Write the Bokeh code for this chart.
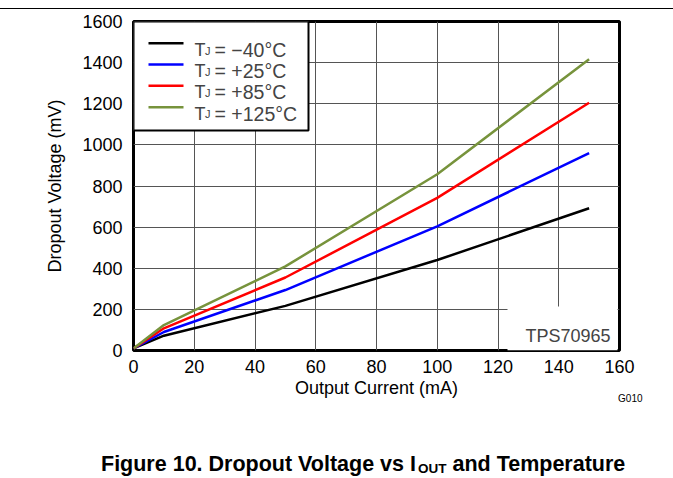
from bokeh.plotting import figure
from bokeh.models import Range1d, Label, FixedTicker, Title, Div
from bokeh.layouts import column
from bokeh.embed import file_html
from bokeh.resources import INLINE

# ---- data ----
current_ma = [0, 10, 50, 100, 150]
vdo_m40 = [10, 72, 217, 440, 692]
vdo_p25 = [10, 90, 294, 604, 960]
vdo_p85 = [10, 108, 355, 742, 1205]
vdo_p125 = [10, 124, 409, 857, 1417]
series_values = [vdo_m40, vdo_p25, vdo_p85, vdo_p125]
series_temps = ["\u221240\u00b0C", "+25\u00b0C", "+85\u00b0C", "+125\u00b0C"]
series_colors = ["#000000", "#0000FF", "#FF0000", "#77933C"]
x_ticks = [0, 20, 40, 60, 80, 100, 120, 140, 160]
y_ticks = [0, 200, 400, 600, 800, 1000, 1200, 1400, 1600]

# ---- layout (page pixels) ----
OY = 9                 # figure top on the page (8px margin + 1px border line)
PW, PH = 670, 411      # figure size
CAP_H = 57             # caption strip height
FL, FR, FT, FB = 133, 619, 21, 350   # frame edges, page pixels
X0, X1, Y0, Y1 = 0, 160, 0, 1600
FONT = "Liberation Sans"
EDGE = "1px solid #000"


def dx(px):
    return X0 + (px - FL) / (FR - FL) * (X1 - X0)


def dy(py):
    return Y0 + (FB - py) / (FB - FT) * (Y1 - Y0)


p = figure(width=PW, height=PH, x_range=Range1d(X0, X1), y_range=Range1d(Y0, Y1),
           output_backend="svg", toolbar_location=None,
           min_border_left=FL, min_border_right=PW - FR,
           min_border_top=FT - OY, min_border_bottom=PH - (FB - OY))
p.background_fill_color = "white"
p.border_fill_color = "white"
p.outline_line_color = "black"
p.outline_line_width = 3

for ax in (p.xaxis, p.yaxis):
    ax.axis_line_color = None
    ax.major_tick_line_color = None
    ax.minor_tick_line_color = None
    ax.major_tick_out = 0
    ax.major_tick_in = 0
    ax.major_label_text_font = FONT
    ax.major_label_text_font_size = "18px"
    ax.major_label_text_color = "black"
    ax.axis_label_text_font = FONT
    ax.axis_label_text_font_size = "18px"
    ax.axis_label_text_font_style = "normal"
    ax.axis_label_text_color = "black"

p.xaxis.ticker = FixedTicker(ticks=x_ticks)
p.yaxis.ticker = FixedTicker(ticks=y_ticks)
p.xaxis.axis_label = "Output Current (mA)"
p.yaxis.axis_label = "Dropout Voltage (mV)"
p.xaxis.major_label_standoff = 9
p.yaxis.major_label_standoff = 11
p.xaxis.axis_label_standoff = 2
p.yaxis.axis_label_standoff = 14

p.grid.grid_line_color = "#555555"
p.grid.grid_line_width = 1
p.xgrid.ticker = FixedTicker(ticks=x_ticks)
p.ygrid.ticker = FixedTicker(ticks=y_ticks)

# drawing id in the lower right corner
p.add_layout(Title(text="G010", align="right", vertical_align="top", offset=-23, standoff=-16,
                   text_font=FONT, text_font_size="10px", text_font_style="normal",
                   text_color="black"), "below")

# white patch behind the part-number label
p.quad(left=dx(507), right=dx(617), bottom=Y0, top=dy(306), fill_color="white", line_color=None)

# data curves
for vals, col in zip(series_values, series_colors):
    p.line(current_ma, vals, line_color=col, line_width=2.5)

# legend box
p.quad(left=X0, right=dx(308), bottom=dy(130), top=Y1, fill_color="white",
       line_color="black", line_width=2)
row0, rstep = 42.7, 21.33
for i, (temp, col) in enumerate(zip(series_temps, series_colors)):
    ry = row0 + i * rstep
    p.segment(x0=[dx(148)], x1=[dx(183)], y0=[dy(ry)], y1=[dy(ry)],
              line_color=col, line_width=2.5)
    p.add_layout(Label(x=dx(194), y=dy(ry + 6.6), text="T", text_font=FONT,
                       text_font_size="18px", text_baseline="alphabetic"))
    p.add_layout(Label(x=dx(204.5), y=dy(ry + 7.3), text="J", text_font=FONT,
                       text_font_size="11px", text_baseline="alphabetic"))
    p.add_layout(Label(x=dx(214), y=dy(ry + 6.6), text="= " + temp, text_font=FONT,
                       text_font_size="19.5px", text_baseline="alphabetic"))

p.add_layout(Label(x=dx(525), y=dy(335), text="TPS70965", text_font=FONT,
                   text_font_size="18px", text_baseline="alphabetic"))

caption = Div(
    width=PW, height=CAP_H,
    text=('<div style="margin:0; padding:29px 0 0 96px; white-space:nowrap; '
          'font-family:\'Liberation Sans\', Arial, sans-serif; font-size:21.5px; '
          'font-weight:bold; line-height:1; color:#000;">'
          'Figure 10. Dropout Voltage vs I'
          '<span style="font-size:13.5px; vertical-align:-1.5px; margin-left:2px;">OUT</span>'
          ' and Temperature</div>'))

page = column(p, caption, spacing=0,
              styles={"margin-top": "8px", "border-top": EDGE})

open("out.html", "w").write(file_html(page, INLINE))
